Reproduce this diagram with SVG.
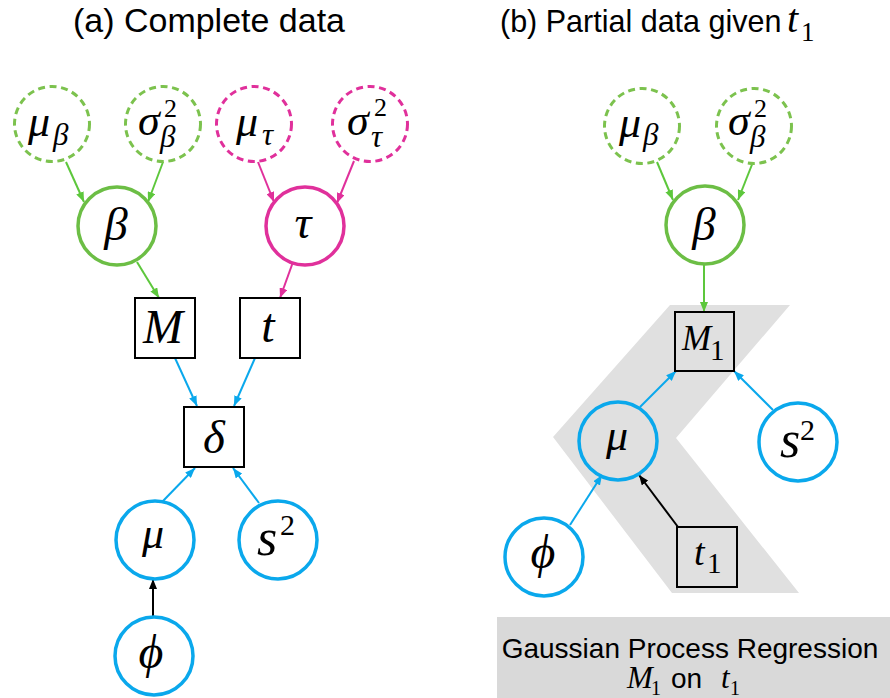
<svg xmlns="http://www.w3.org/2000/svg" width="890" height="698" viewBox="0 0 890 698">
  <style>
    .math { font-family: "Liberation Serif", "DejaVu Serif", "Times New Roman", serif; font-style: italic; fill: #000; }
    .num { font-family: "Liberation Serif", "Times New Roman", serif; font-style: normal; fill: #000; }
    .sans { font-family: "Liberation Sans", Arial, sans-serif; fill: #000; }
    .green { fill: #fff; stroke: #6CBE45; stroke-width: 3.5; }
    .green-dash { fill: #fff; stroke: #7CC24E; stroke-width: 3; stroke-dasharray: 7 4.6; }
    .pink { fill: #fff; stroke: #E0309B; stroke-width: 3.5; }
    .pink-dash { fill: #fff; stroke: #E0309B; stroke-width: 3; stroke-dasharray: 7 4.6; }
    .blue { fill: #fff; stroke: #0AA8EC; stroke-width: 3.5; }
    .blue-clear { fill: none; stroke: #0AA8EC; stroke-width: 3.5; }
    .box { fill: #fff; stroke: #000; stroke-width: 2; }
    .box-clear { fill: none; stroke: #000; stroke-width: 2; }
    .e-green { stroke: #5DC73C; stroke-width: 2; fill: none; marker-end: url(#ah-green); }
    .e-pink { stroke: #E0309B; stroke-width: 2; fill: none; marker-end: url(#ah-pink); }
    .e-blue { stroke: #0AA8EC; stroke-width: 2; fill: none; marker-end: url(#ah-blue); }
    .e-black { stroke: #000; stroke-width: 2; fill: none; marker-end: url(#ah-black); }
  </style>
  <defs>
    <marker id="ah-green" markerUnits="userSpaceOnUse" markerWidth="10" markerHeight="8" refX="10" refY="4" orient="auto">
      <path d="M0,0 L10,4 L0,8 z" fill="#5DC73C"/>
    </marker>
    <marker id="ah-pink" markerUnits="userSpaceOnUse" markerWidth="10" markerHeight="8" refX="10" refY="4" orient="auto">
      <path d="M0,0 L10,4 L0,8 z" fill="#E0309B"/>
    </marker>
    <marker id="ah-blue" markerUnits="userSpaceOnUse" markerWidth="10" markerHeight="8" refX="10" refY="4" orient="auto">
      <path d="M0,0 L10,4 L0,8 z" fill="#0AA8EC"/>
    </marker>
    <marker id="ah-black" markerUnits="userSpaceOnUse" markerWidth="10" markerHeight="8" refX="10" refY="4" orient="auto">
      <path d="M0,0 L10,4 L0,8 z" fill="#000"/>
    </marker>
  </defs>

  <rect width="890" height="698" fill="#fff"/>

  <!-- panel titles -->
  <text class="sans" x="73" y="32" font-size="33" textLength="272" lengthAdjust="spacingAndGlyphs">(a) Complete data</text>
  <text class="sans" x="500" y="32" font-size="30.5">(b) Partial data given</text>
  <text class="math" x="787" y="32" font-size="40">t</text>
  <text class="num" x="801" y="41" font-size="27">1</text>

  <!-- shaded regression region in panel (b) -->
  <polygon points="670,305 790,305 676,438 799,593 672,593 553,437" fill="#E0E0E0"/>

  <!-- caption box -->
  <g id="gpr-caption">
    <rect x="497" y="617" width="393" height="81" fill="#D9D9D9"/>
    <text class="sans" x="690" y="658" font-size="28" text-anchor="middle">Gaussian Process Regression</text>
    <text class="math" x="627" y="688" font-size="31">M</text>
    <text class="num" x="651" y="695" font-size="20">1</text>
    <text class="sans" x="671" y="688" font-size="28">on</text>
    <text class="math" x="721" y="688" font-size="31">t</text>
    <text class="num" x="730" y="695" font-size="20">1</text>
  </g>

  <!-- connectors -->
  <g id="connectors">
    <!-- panel (a) -->
    <line class="e-green" x1="66" y1="162" x2="84" y2="202"/>
    <line class="e-green" x1="163" y1="162" x2="148" y2="202"/>
    <line class="e-pink" x1="258" y1="162" x2="274" y2="202"/>
    <line class="e-pink" x1="354" y1="161" x2="337" y2="203"/>
    <line class="e-green" x1="137" y1="262" x2="159" y2="298"/>
    <line class="e-pink" x1="293" y1="262" x2="280" y2="298"/>
    <line class="e-blue" x1="175" y1="358" x2="197" y2="406"/>
    <line class="e-blue" x1="255" y1="358" x2="234" y2="406"/>
    <line class="e-blue" x1="163" y1="501" x2="195" y2="468"/>
    <line class="e-blue" x1="259" y1="503" x2="233" y2="468"/>
    <line class="e-black" x1="153" y1="617" x2="153" y2="579"/>
    <!-- panel (b) -->
    <line class="e-green" x1="657" y1="162" x2="673" y2="200"/>
    <line class="e-green" x1="753" y1="162" x2="738" y2="200"/>
    <line class="e-green" x1="704" y1="265" x2="704" y2="312"/>
    <line class="e-blue" x1="640" y1="407" x2="676" y2="371"/>
    <line class="e-blue" x1="773" y1="410" x2="734" y2="371"/>
    <line class="e-blue" x1="570" y1="525" x2="602" y2="475"/>
    <line class="e-black" x1="678" y1="527" x2="639" y2="475"/>
  </g>

  <!-- panel (a) nodes -->
  <g id="a-mu-beta">
    <circle class="green-dash" cx="52" cy="124" r="37.5"/>
    <text class="math" x="28" y="136" font-size="44">μ</text>
    <text class="math" x="53" y="145" font-size="31">β</text>
  </g>
  <g id="a-sigma2-beta">
    <circle class="green-dash" cx="163" cy="124" r="37.5"/>
    <text class="math" x="138" y="135" font-size="44">σ</text>
    <text class="num" x="164" y="117" font-size="26">2</text>
    <text class="math" x="160" y="147" font-size="31">β</text>
  </g>
  <g id="a-mu-tau">
    <circle class="pink-dash" cx="254" cy="124" r="37.5"/>
    <text class="math" x="236" y="136" font-size="44">μ</text>
    <text class="math" x="262" y="145" font-size="31">τ</text>
  </g>
  <g id="a-sigma2-tau">
    <circle class="pink-dash" cx="370" cy="124" r="37.5"/>
    <text class="math" x="347" y="135" font-size="44">σ</text>
    <text class="num" x="374" y="116" font-size="26">2</text>
    <text class="math" x="371" y="147" font-size="31">τ</text>
  </g>
  <g id="a-beta">
    <circle class="green" cx="117" cy="226" r="39"/>
    <text class="math" x="116" y="240" font-size="47" text-anchor="middle">β</text>
  </g>
  <g id="a-tau">
    <circle class="pink" cx="305" cy="226" r="39"/>
    <text class="math" x="303" y="238" font-size="47" text-anchor="middle">τ</text>
  </g>
  <g id="a-M">
    <rect class="box" x="135" y="298" width="60" height="60"/>
    <text class="math" x="163" y="343" font-size="48" text-anchor="middle">M</text>
  </g>
  <g id="a-t">
    <rect class="box" x="240" y="298" width="60" height="60"/>
    <text class="math" x="268" y="342" font-size="48" text-anchor="middle">t</text>
  </g>
  <g id="a-delta">
    <rect class="box" x="184" y="407" width="60" height="60"/>
    <text class="math" x="214" y="453" font-size="47" text-anchor="middle">δ</text>
  </g>
  <g id="a-mu">
    <circle class="blue" cx="155" cy="540" r="39"/>
    <text class="math" x="153" y="548" font-size="44" text-anchor="middle">μ</text>
  </g>
  <g id="a-s2">
    <circle class="blue" cx="278" cy="540" r="39"/>
    <text class="math" x="257" y="555" font-size="52">s</text>
    <text class="num" x="280" y="535" font-size="30">2</text>
  </g>
  <g id="a-phi">
    <circle class="blue" cx="154" cy="656" r="39"/>
    <text class="math" x="151" y="668" font-size="48" text-anchor="middle">ϕ</text>
  </g>

  <!-- panel (b) nodes -->
  <g id="b-mu-beta">
    <circle class="green-dash" cx="642" cy="126" r="37.5"/>
    <text class="math" x="619" y="137" font-size="44">μ</text>
    <text class="math" x="643" y="145" font-size="31">β</text>
  </g>
  <g id="b-sigma2-beta">
    <circle class="green-dash" cx="754" cy="126" r="37.5"/>
    <text class="math" x="728" y="135" font-size="44">σ</text>
    <text class="num" x="754" y="117" font-size="26">2</text>
    <text class="math" x="750" y="147" font-size="31">β</text>
  </g>
  <g id="b-beta">
    <circle class="green" cx="705" cy="225" r="39"/>
    <text class="math" x="704" y="240" font-size="47" text-anchor="middle">β</text>
  </g>
  <g id="b-M1">
    <rect class="box-clear" x="675" y="312" width="59" height="59"/>
    <text class="math" x="682" y="350" font-size="35">M</text>
    <text class="num" x="710" y="360" font-size="29">1</text>
  </g>
  <g id="b-mu">
    <circle class="blue-clear" cx="618" cy="441" r="39"/>
    <text class="math" x="617" y="450" font-size="44" text-anchor="middle">μ</text>
  </g>
  <g id="b-s2">
    <circle class="blue" cx="798" cy="442" r="39"/>
    <text class="math" x="780" y="457" font-size="52">s</text>
    <text class="num" x="800" y="440" font-size="30">2</text>
  </g>
  <g id="b-phi">
    <circle class="blue" cx="544" cy="557" r="39"/>
    <text class="math" x="543" y="568" font-size="48" text-anchor="middle">ϕ</text>
  </g>
  <g id="b-t1">
    <rect class="box-clear" x="677" y="527" width="60" height="60"/>
    <text class="math" x="694" y="565" font-size="38">t</text>
    <text class="num" x="707" y="573" font-size="29">1</text>
  </g>
</svg>
